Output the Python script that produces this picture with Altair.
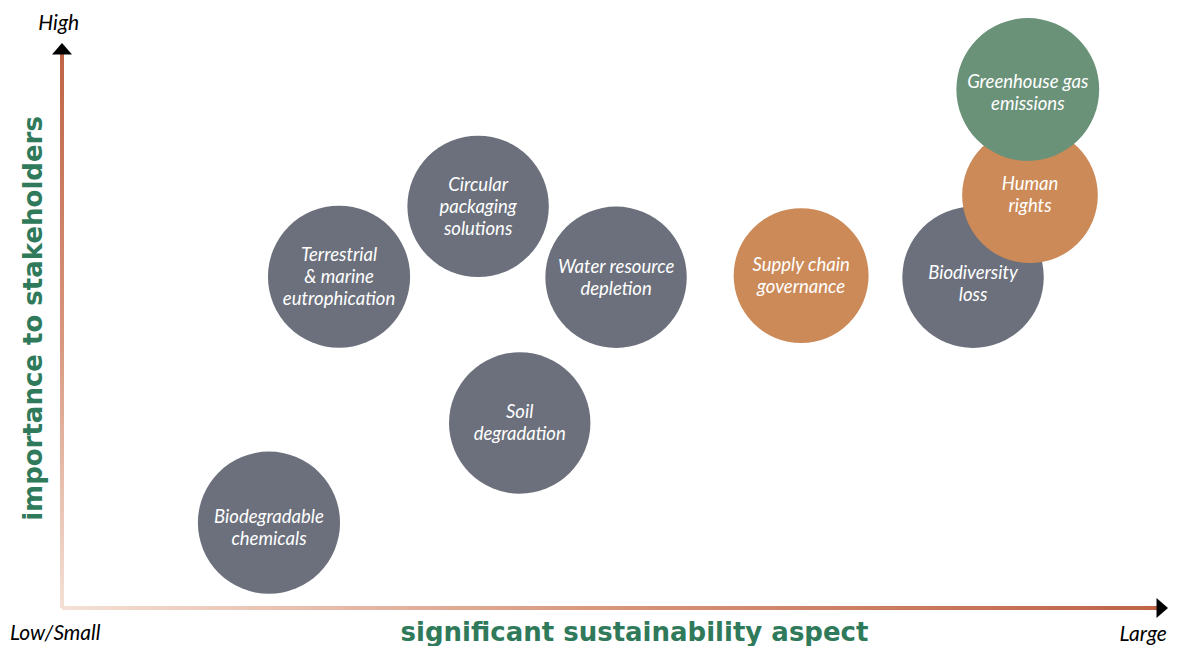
import altair as alt
import pandas as pd

# ---- data ----
aspects = [
    "Biodegradable\nchemicals",
    "Soil\ndegradation",
    "Terrestrial\n& marine\neutrophication",
    "Circular\npackaging\nsolutions",
    "Water resource\ndepletion",
    "Supply chain\ngovernance",
    "Biodiversity\nloss",
    "Human\nrights",
    "Greenhouse gas\nemissions",
]
groups = ["env", "env", "env", "env", "env", "social", "env", "social", "climate"]
significance = [18.9, 41.8, 25.3, 38.0, 50.6, 67.5, 83.2, 88.4, 88.2]
importance = [15.4, 33.4, 59.8, 72.5, 59.7, 60.0, 59.7, 74.5, 93.6]
magnitude = [101, 100, 101, 100, 100, 91, 100, 92, 102]
label_x = [18.9, 41.8, 25.3, 38.0, 50.6, 67.5, 83.2, 88.4, 88.2]
label_y = [14.5, 33.4, 59.8, 72.4, 59.6, 60.0, 58.4, 74.5, 92.9]

ann_text = ["High", "Low/Small", "Large"]
ann_x = [-0.3, -4.75, 100.9]
ann_y = [104.3, -5.8, -5.9]
ann_align = ["center", "left", "right"]

axis_end = 100

df = pd.DataFrame({
    "aspect": aspects, "group": groups, "sig": significance, "imp": importance,
    "mag": magnitude, "lx": label_x, "ly": label_y,
})
df["nlines"] = df["aspect"].str.count("\n") + 1
ann = pd.DataFrame({"t": ann_text, "x": ann_x, "y": ann_y, "a": ann_align})

W, H = 1162, 638
X_DOM = [-54 / 10.95, (W - 54) / 10.95]
Y_DOM = [-(H - 600) / 5.54, 600 / 5.54]

xs = alt.Scale(domain=X_DOM, nice=False, zero=False, padding=0)
ys = alt.Scale(domain=Y_DOM, nice=False, zero=False, padding=0)

TITLE_GREEN = "#2f7a5a"
FONT = "Lato"
TITLE_FONT = "DejaVu Sans"
LINE_H = 22

xaxis = alt.Axis(
    title="significant sustainability aspect", labels=False, ticks=False, domain=False, grid=False,
    titleFont=TITLE_FONT, titleFontSize=26, titleFontWeight="bold", titleColor=TITLE_GREEN,
    titleX=626, titleY=632 - H, titleAlign="center", titleBaseline="alphabetic",
)
yaxis = alt.Axis(
    title="importance to stakeholders", labels=False, ticks=False, domain=False, grid=False,
    titleFont=TITLE_FONT, titleFontSize=26, titleFontWeight="bold", titleColor=TITLE_GREEN,
    titleX=25, titleY=310, titleAngle=270, titleAlign="center", titleBaseline="middle",
)

axis_df = pd.DataFrame({"x0": [0], "x1": [axis_end], "y0": [0], "y1": [axis_end]})

stops = [
    alt.GradientStop(color="#f4e0d6", offset=0),
    alt.GradientStop(color="#d7957b", offset=0.5),
    alt.GradientStop(color="#bf6447", offset=1),
]
grad_h = alt.Gradient(gradient="linear", x1=0, x2=1, y1=0, y2=0, stops=stops)
grad_v = alt.Gradient(gradient="linear", x1=0, x2=0, y1=1, y2=0, stops=stops)

h_line = alt.Chart(axis_df).mark_bar(size=4, orient="horizontal", fill=grad_h).encode(
    x=alt.X("x0:Q", scale=xs, axis=xaxis), x2="x1:Q", y=alt.Y("y0:Q", scale=ys, axis=yaxis)
)
v_line = alt.Chart(axis_df).mark_bar(size=4, orient="vertical", fill=grad_v).encode(
    y=alt.Y("y0:Q", scale=ys), y2="y1:Q", x=alt.X("x0:Q", scale=xs)
)

arrow_up = alt.Chart(axis_df).mark_point(
    shape="M-1,0.05L0,-1.1L1,0.05Z", filled=True, color="black", opacity=1, size=400
).encode(x=alt.X("x0:Q", scale=xs), y=alt.Y("y1:Q", scale=ys))
arrow_right = alt.Chart(axis_df).mark_point(
    shape="M-0.05,-1L1.1,0L-0.05,1Z", filled=True, color="black", opacity=1, size=400
).encode(x=alt.X("x1:Q", scale=xs), y=alt.Y("y0:Q", scale=ys))

bubbles = alt.Chart(df).mark_circle(opacity=1).encode(
    x=alt.X("sig:Q", scale=xs),
    y=alt.Y("imp:Q", scale=ys),
    size=alt.Size("mag:Q", scale=alt.Scale(domain=[0, 100], range=[0, 20000], zero=True), legend=None),
    color=alt.Color("group:N", scale=alt.Scale(domain=["env", "social", "climate"],
                                               range=["#6b707c", "#cc8a58", "#6a9279"]), legend=None),
)

label_layers = []
for n in sorted(df["nlines"].unique()):
    label_layers.append(
        alt.Chart(df[df["nlines"] == n]).mark_text(
            color="white", font=FONT, fontStyle="italic", fontSize=18.5, lineBreak="\n",
            lineHeight=LINE_H, align="center", baseline="middle", dy=-(int(n) - 1) * LINE_H / 2,
        ).encode(x=alt.X("lx:Q", scale=xs), y=alt.Y("ly:Q", scale=ys), text="aspect:N")
    )

annot_layers = []
for t, a in zip(ann_text, ann_align):
    annot_layers.append(
        alt.Chart(ann[ann["t"] == t]).mark_text(
            color="black", font=FONT, fontStyle="italic", fontSize=21, baseline="alphabetic", align=a,
        ).encode(x=alt.X("x:Q", scale=xs), y=alt.Y("y:Q", scale=ys), text="t:N")
    )

chart = alt.layer(h_line, v_line, arrow_up, arrow_right, bubbles, *label_layers, *annot_layers).properties(
    width=W, height=H, padding=0, autosize=alt.AutoSizeParams(type="none"), background="white",
).configure_view(stroke=None)

chart.save("out.html", embed_options={"renderer": "svg", "actions": False})
